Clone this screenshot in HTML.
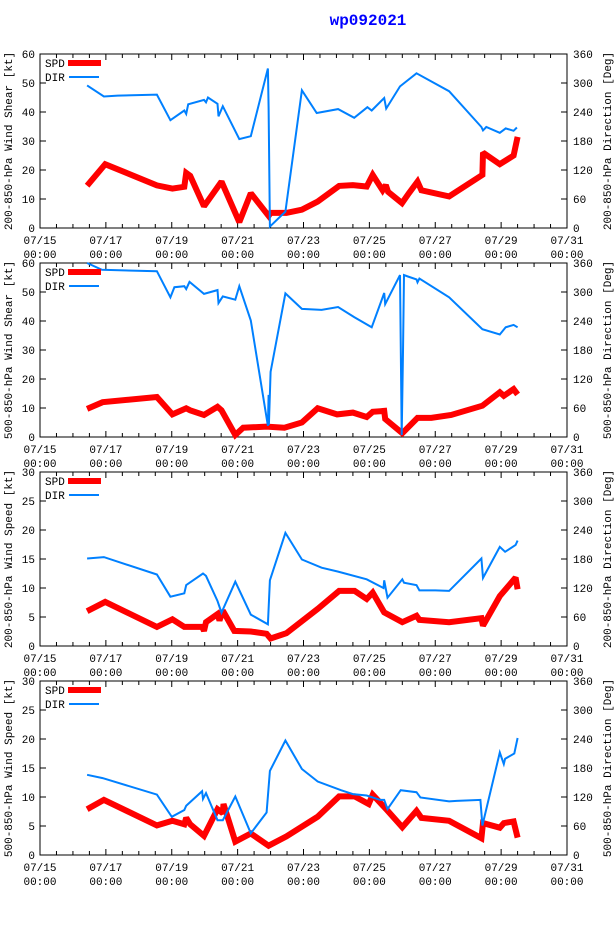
<!DOCTYPE html>
<html><head><meta charset="utf-8">
<style>
body{margin:0;background:#fff;}
svg{display:block;font-family:"Liberation Mono","DejaVu Sans Mono",monospace;}
</style></head>
<body>
<svg id="chart" width="614" height="936" viewBox="0 0 614 936" xmlns="http://www.w3.org/2000/svg">
<rect width="614" height="936" fill="#fff"/>
<text x="368" y="25" text-anchor="middle" font-size="16" font-weight="bold" fill="#0000ff">wp092021</text>
</svg>
<script>
// day offsets from 07/15 00:00
const xTickLabels = ["07/15","07/17","07/19","07/21","07/23","07/25","07/27","07/29","07/31"];
const panelTitlesLeft = ["200-850-hPa Wind Shear [kt]","500-850-hPa Wind Shear [kt]","200-850-hPa Wind Speed [kt]","500-850-hPa Wind Speed [kt]"];
const panelTitlesRight = ["200-850-hPa Direction [Deg]","500-850-hPa Direction [Deg]","200-850-hPa Direction [Deg]","500-850-hPa Direction [Deg]"];
const panelSpdMax = [60,60,30,30];

const spd1Days = [1.43,1.98,3.55,4.02,4.38,4.44,4.56,4.98,5.51,6.05,6.4,6.94,7.0,7.48,7.95,8.43,9.08,9.5,9.92,10.1,10.4,10.5,10.57,10.99,11.2,11.46,11.58,12.42,13.43,13.45,13.96,14.38,14.5];
const spd1Vals = [14.6,22,14.7,13.6,14.2,19,18,7.5,16,2,12,4.2,5.2,5.2,6.3,9.1,14.5,14.8,14.3,18.3,13,14.8,12.5,8.6,12,16,13,10.9,18.3,26,22,25,31.4];
const dir1Days = [1.43,1.94,2.36,3.55,3.96,4.38,4.44,4.5,4.98,5.04,5.1,5.39,5.42,5.55,6.05,6.4,6.92,6.94,6.98,7.45,7.95,8.4,9.05,9.54,9.94,10.07,10.45,10.51,10.93,11.43,12.42,13.4,13.45,13.55,13.96,14.14,14.38,14.48];
const dir1Vals = [295,272,274,276,223,243,236,256,265,260,270,257,231,252,184,190,330,250,3,34,285,238,246,228,250,243,269,247,293,320,283,209,202,209,197,206,201,208];

const spd2Days = [1.43,1.9,3.55,4.02,4.44,4.56,4.98,5.39,5.51,5.93,6.17,6.88,7.42,7.95,8.43,9.02,9.5,9.92,10.1,10.45,10.48,11.0,11.46,11.88,12.48,13.43,13.96,14.08,14.38,14.5];
const spd2Vals = [9.7,12,13.8,7.8,9.9,9.2,7.6,10.4,9.2,0.7,3.2,3.6,3.2,5,9.9,7.8,8.4,6.9,8.7,9,6.2,1.3,6.6,6.6,7.6,10.8,15.4,14.2,16.5,14.7];
const dir2Days = [1.43,1.88,3.55,3.96,4.08,4.38,4.44,4.54,4.98,5.39,5.42,5.55,5.93,6.05,6.4,6.92,6.94,6.95,7.0,7.45,7.95,8.55,9.05,9.54,10.07,10.45,10.48,10.93,10.98,11.02,11.05,11.17,11.43,11.46,11.52,12.42,13.43,13.96,14.14,14.38,14.5];
const dir2Vals = [360,346,343,289,310,312,306,321,296,304,277,291,284,312,241,23,87,25,135,297,265,263,269,248,227,298,275,335,4,176,335,332,326,320,328,289,223,212,227,232,227];

const spd3Days = [1.43,1.98,3.55,4.02,4.38,4.92,4.98,5.04,5.39,5.45,5.55,5.9,6.4,6.88,7.0,7.48,8.43,9.08,9.55,9.92,10.1,10.45,11.0,11.43,11.52,12.42,13.4,13.45,13.96,14.44,14.5];
const spd3Vals = [6,7.6,3.3,4.6,3.3,3.3,2.6,4.1,5.5,4.4,6.1,2.6,2.5,2.1,1.3,2.2,6.4,9.5,9.5,8.1,9.2,5.8,4.1,5.2,4.5,4.1,4.8,3.5,8.6,11.8,9.8];
const dir3Days = [1.43,1.94,3.55,3.96,4.38,4.44,4.95,5.04,5.39,5.51,5.93,6.4,6.92,6.98,7.45,7.95,8.55,9.05,9.92,10.43,10.45,10.55,11.0,11.05,11.43,11.52,12.0,12.42,13.4,13.45,13.96,14.12,14.44,14.5];
const dir3Vals = [181,184,148,102,109,126,150,145,93,69,133,65,45,136,234,179,162,154,138,120,136,100,138,131,126,115,115,114,181,141,205,195,209,218];

const spd4Days = [1.43,1.94,3.55,4.02,4.38,4.44,4.56,4.98,5.39,5.55,5.57,5.93,6.4,6.94,7.48,8.43,9.08,9.55,9.98,10.1,10.51,11.0,11.43,11.58,12.42,13.4,13.45,13.96,14.08,14.38,14.5];
const spd4Vals = [7.9,9.5,5.1,5.9,5.3,6.4,5.3,3.3,7.9,7.2,8.8,2.3,3.7,1.6,3.2,6.6,10.1,10.1,8.8,10.4,7.9,4.8,7.6,6.4,5.9,2.9,5.5,4.7,5.5,5.8,3.0];
const dir4Days = [1.43,1.9,3.55,4.0,4.38,4.44,4.92,4.95,5.04,5.39,5.55,5.93,6.4,6.88,6.98,7.45,7.95,8.43,9.14,9.5,9.92,10.33,10.45,10.55,10.95,11.43,11.55,12.42,12.65,13.37,13.43,13.96,14.08,14.12,14.4,14.5];
const dir4Vals = [166,159,125,79,93,102,132,116,128,72,72,121,45,88,174,237,178,152,134,126,123,114,114,95,134,130,119,111,112,114,61,212,188,199,210,242];

const spdDays=[spd1Days,spd2Days,spd3Days,spd4Days], spdVals=[spd1Vals,spd2Vals,spd3Vals,spd4Vals];
const dirDays=[dir1Days,dir2Days,dir3Days,dir4Days], dirVals=[dir1Vals,dir2Vals,dir3Vals,dir4Vals];

const svg=document.getElementById('chart');
const NS='http://www.w3.org/2000/svg';
const X0=40, X1=567, PH=174, tops=[54,263,472,681];
function xs(d){return X0+(X1-X0)*d/16;}
function mk(tag,attrs,parent){const e=document.createElementNS(NS,tag);for(const k in attrs)e.setAttribute(k,attrs[k]);(parent||svg).appendChild(e);return e;}

for(let p=0;p<4;p++){
  const top=tops[p], bot=top+PH, sMax=panelSpdMax[p];
  const ys=v=>bot-PH*v/sMax, yd=v=>bot-PH*v/360;
  const g=mk('g',{});
  
  
  const fr=mk('rect',{x:X0,y:top,width:X1-X0,height:PH,fill:'none',stroke:'#000','stroke-width':1},g);
  
  
  // x ticks
  for(let i=0;i<=32;i++){
    const x=xs(i/2), L=(i%4===0)?6:4;
    mk('line',{x1:x,y1:bot,x2:x,y2:bot-L,stroke:'#000'},g);
    mk('line',{x1:x,y1:top,x2:x,y2:top+L,stroke:'#000'},g);
  }
  for(let i=0;i<xTickLabels.length;i++){
    const x=xs(i*2);
    const t=mk('text',{x:x,y:bot+16,'text-anchor':'middle','font-size':11},g);
    t.textContent=xTickLabels[i];
    
    
    const t2=mk('text',{x:x,y:bot+30,'text-anchor':'middle','font-size':11},g);
    t2.textContent='00:00';
    
    
  }
  // y ticks
  for(let i=0;i<=6;i++){
    const y=bot-PH*i/6;
    mk('line',{x1:X0,y1:y,x2:X0+6,y2:y,stroke:'#000'},g);
    mk('line',{x1:X1,y1:y,x2:X1-6,y2:y,stroke:'#000'},g);
    const tl=mk('text',{x:X0-5,y:y+4,'text-anchor':'end','font-size':11},g);
    tl.textContent=String(sMax*i/6);
    
    
    const tr=mk('text',{x:X1+6,y:y+4,'text-anchor':'start','font-size':11},g);
    tr.textContent=String(60*i);
    
    
  }
  const cy=top+PH/2;
  const lt=mk('text',{x:0,y:0,'text-anchor':'middle','font-size':11,transform:`translate(12,${cy}) rotate(-90)`},g);
  lt.textContent=panelTitlesLeft[p];
  
  
  const rt=mk('text',{x:0,y:0,'text-anchor':'middle','font-size':11,transform:`translate(611,${cy}) rotate(-90)`},g);
  rt.textContent=panelTitlesRight[p];
  
  
  // series
  const sp=spdDays[p].map((d,i)=>xs(d).toFixed(1)+','+ys(spdVals[p][i]).toFixed(1)).join(' ');
  const sl=mk('polyline',{points:sp,fill:'none',stroke:'#ff0000','stroke-width':6,'stroke-linejoin':'miter','stroke-miterlimit':2},g);
  
  
  const dp=dirDays[p].map((d,i)=>xs(d).toFixed(1)+','+yd(dirVals[p][i]).toFixed(1)).join(' ');
  const dl=mk('polyline',{points:dp,fill:'none',stroke:'#0080ff','stroke-width':2},g);
  
  
  // legend
  const l1=mk('text',{x:45,y:top+13,'font-size':11},g);
  l1.textContent='SPD';
  
  
  const l1s=mk('line',{x1:68,y1:top+9,x2:101,y2:top+9,stroke:'#ff0000','stroke-width':6},g);
  
  
  const l2=mk('text',{x:45,y:top+27,'font-size':11},g);
  l2.textContent='DIR';
  
  
  const l2s=mk('line',{x1:69,y1:top+23,x2:99,y2:top+23,stroke:'#0080ff','stroke-width':2},g);
  
  
}
</script>
</body></html>
